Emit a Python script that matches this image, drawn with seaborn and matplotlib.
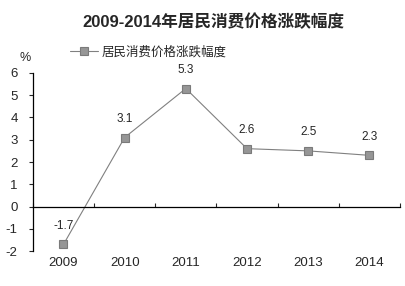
import matplotlib
matplotlib.use("Agg")
import matplotlib.pyplot as plt
import matplotlib.transforms as mtrans
import seaborn as sns
import pandas as pd

years = ["2009", "2010", "2011", "2012", "2013", "2014"]
cpi_change = [-1.7, 3.1, 5.3, 2.6, 2.5, 2.3]
series_name = "居民消费价格涨跌幅度"
title = "2009-2014年居民消费价格涨跌幅度"
y_ticks = [-2, -1, 0, 1, 2, 3, 4, 5, 6]

sns.set_style("white")
plt.rcParams["font.family"] = ["Liberation Sans", "Noto Sans CJK SC", "DejaVu Sans"]

df = pd.DataFrame({"year": years, "value": cpi_change})

fig = plt.figure(figsize=(4.06, 2.86), dpi=100)
ax = fig.add_axes([0.081, 0.122, 0.904, 0.623])

sns.lineplot(data=df, x="year", y="value", ax=ax, color="#808080", linewidth=0.8,
             marker="s", markersize=6, markerfacecolor="#969696",
             markeredgecolor="#7a7a7a", markeredgewidth=0.8, label=series_name)

for i, v in enumerate(cpi_change):
    ax.annotate(f"{v}", (i, v), xytext=(0, 9), textcoords="offset points",
                ha="center", va="bottom", fontsize=8.5)

ax.set_xlim(-0.5, len(years) - 0.5)
ax.set_ylim(-2, 6)
ax.set_yticks(y_ticks)
ax.set_yticklabels([str(t) for t in y_ticks], fontsize=9.5)
ax.tick_params(axis="y", direction="out", length=3, width=0.8, pad=8, left=True)

# x axis drawn along zero, ticks at category boundaries pointing up
ax.spines["bottom"].set_position(("data", 0))
ax.set_xticks([i - 0.5 for i in range(len(years) + 1)])
ax.set_xticklabels([])
ax.tick_params(axis="x", direction="in", length=3, width=0.8, bottom=True)
trans = mtrans.blended_transform_factory(ax.transData, ax.transAxes)
for i, yr in enumerate(years):
    ax.text(i, -0.035, yr, transform=trans, ha="center", va="top", fontsize=9.5)

for s in ["top", "right"]:
    ax.spines[s].set_visible(False)
for s in ["left", "bottom"]:
    ax.spines[s].set_color("black")
    ax.spines[s].set_linewidth(0.9)

ax.set_xlabel("")
ax.set_ylabel("")
ax.legend(loc="center left", bbox_to_anchor=(0.145, 0.818), bbox_transform=fig.transFigure,
          frameon=False, handlelength=2.2, handletextpad=0.3,
          prop={"family": ["Noto Sans CJK SC"], "size": 9})

fig.text(0.062, 0.797, "%", ha="center", va="center", fontsize=9)
fig.text(0.525, 0.925, title, ha="center", va="center", fontsize=12, fontweight="bold",
         family=["Liberation Sans", "Noto Sans CJK SC"])

fig.savefig("out.png", dpi=100)
